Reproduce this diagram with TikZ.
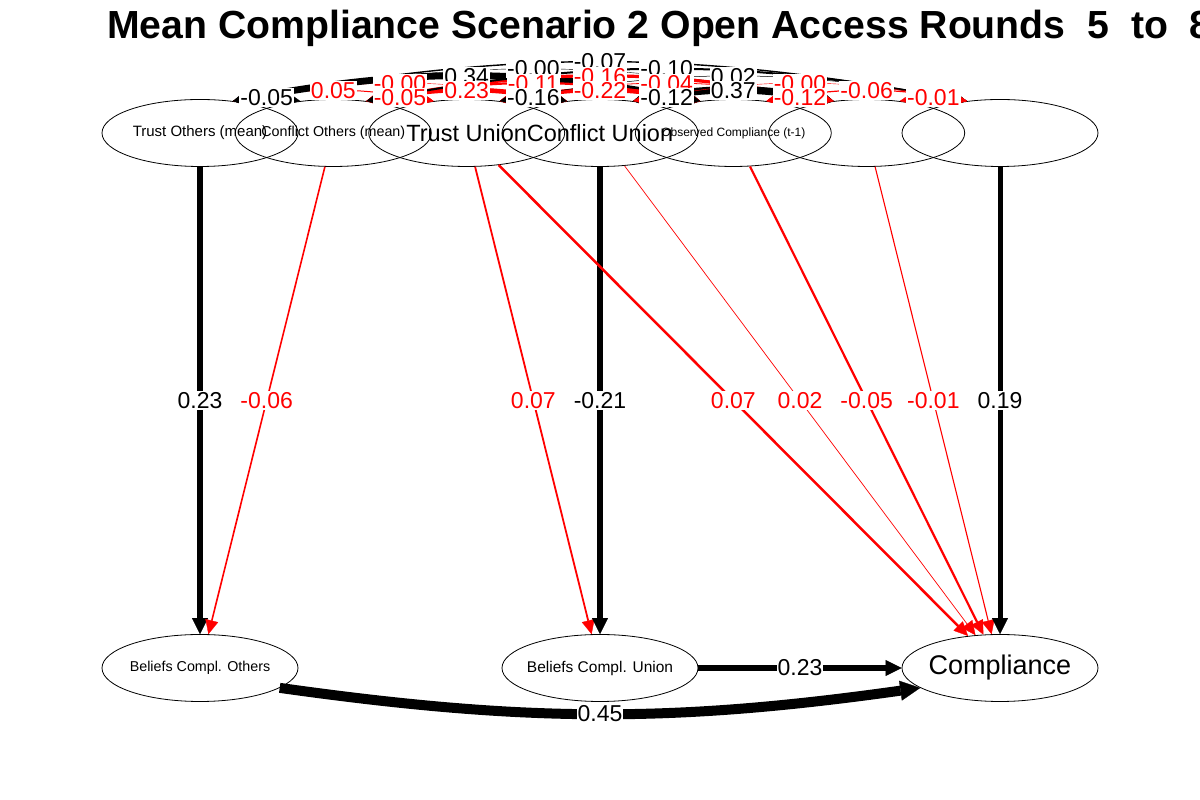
\documentclass[tikz,border=0pt]{standalone}
\usepackage{fontspec}
\setmainfont{Liberation Sans}
\usetikzlibrary{arrows.meta,shapes.geometric}
\newcommand\myfs[1]{\fontsize{#1}{#1}\selectfont}
\begin{document}
\begin{tikzpicture}[x=1pt,y=1pt,
 nd/.style={draw, ellipse, minimum width=196pt, minimum height=67pt, inner sep=0pt, line width=0.8pt},
 lab/.style={fill=white, inner sep=1pt, font=\myfs{23}},
 cov/.style={{Triangle[length=6pt 1.1,width=5pt 1.6,line width=0.3pt]}-{Triangle[length=6pt 1.1,width=5pt 1.6,line width=0.3pt]}},
 dirA/.style={-{Triangle[length=16pt,width=16pt,line width=0.3pt]}},
 dirB/.style={-{Triangle[length=14pt,width=13pt,line width=0.3pt]}},
 bl/.style={bend left=10.5}
]
\useasboundingbox (0,0) rectangle (1200,800);
\fill[white] (0,0) rectangle (1200,800);
\node[anchor=base west, font=\bfseries\myfs{39.2}, inner sep=0pt] (title) at (107,761) {Mean Compliance Scenario 2 Open Access Rounds\ \ 5\ \ to\ \ 8};

% nodes
\node[nd] (n1) at (200,667) {\makebox[0pt]{\myfs{15}Trust Others (mean)}};
\node[nd] (n2) at (333.3,667) {\makebox[0pt]{\myfs{14.3}Conflict Others (mean)}};
\node[nd] (n3) at (466.7,667) {\makebox[0pt]{\myfs{23.5}Trust Union}};
\node[nd] (n4) at (600,667) {\makebox[0pt]{\myfs{23.5}Conflict Union}};
\node[nd] (n5) at (733.3,667) {\makebox[0pt]{\myfs{12}Observed Compliance (t-1)}};
\node[nd] (n6) at (866.7,667) {};
\node[nd] (n7) at (1000,667) {};
\node[nd] (b1) at (200,132) {\makebox[0pt]{\myfs{14.3}Beliefs Compl. Others}};
\node[nd] (b2) at (600,132) {\makebox[0pt]{\myfs{15.5}Beliefs Compl. Union}};
\node[nd] (c) at (1000,132) {\makebox[0pt]{\myfs{27}Compliance}};

% covariance arcs
\draw[cov, black, line width=1.0pt] (n1.44) to[bl] coordinate[midway] (m12) (n2.136);
\draw[cov, red, line width=1.0pt] (n1.44) to[bl] coordinate[midway] (m13) (n3.136);
\draw[cov, red, line width=0.4pt] (n1.44) to[bl] coordinate[midway] (m14) (n4.136);
\draw[cov, black, line width=6.8pt] (n1.44) to[bl] coordinate[midway] (m15) (n5.136);
\draw[cov, black, line width=0.4pt] (n1.44) to[bl] coordinate[midway] (m16) (n6.136);
\draw[cov, black, line width=1.4pt] (n1.44) to[bl] coordinate[midway] (m17) (n7.136);
\draw[cov, red, line width=1.0pt] (n2.44) to[bl] coordinate[midway] (m23) (n3.136);
\draw[cov, red, line width=4.6pt] (n2.44) to[bl] coordinate[midway] (m24) (n4.136);
\draw[cov, red, line width=2.2pt] (n2.44) to[bl] coordinate[midway] (m25) (n5.136);
\draw[cov, red, line width=3.2pt] (n2.44) to[bl] coordinate[midway] (m26) (n6.136);
\draw[cov, black, line width=2.0pt] (n2.44) to[bl] coordinate[midway] (m27) (n7.136);
\draw[cov, black, line width=3.2pt] (n3.44) to[bl] coordinate[midway] (m34) (n4.136);
\draw[cov, red, line width=4.4pt] (n3.44) to[bl] coordinate[midway] (m35) (n5.136);
\draw[cov, red, line width=0.8pt] (n3.44) to[bl] coordinate[midway] (m36) (n6.136);
\draw[cov, black, line width=0.5pt] (n3.44) to[bl] coordinate[midway] (m37) (n7.136);
\draw[cov, black, line width=2.4pt] (n4.44) to[bl] coordinate[midway] (m45) (n5.136);
\draw[cov, black, line width=7.4pt] (n4.44) to[bl] coordinate[midway] (m46) (n6.136);
\draw[cov, red, line width=0.4pt] (n4.44) to[bl] coordinate[midway] (m47) (n7.136);
\draw[cov, red, line width=2.4pt] (n5.44) to[bl] coordinate[midway] (m56) (n6.136);
\draw[cov, red, line width=1.2pt] (n5.44) to[bl] coordinate[midway] (m57) (n7.136);
\draw[cov, red, line width=0.4pt] (n6.44) to[bl] coordinate[midway] (m67) (n7.136);

% directed edges
\draw[dirA, line width=6pt] (n1) -- coordinate[midway] (e1) (b1);
\draw[dirB, red, line width=1.6pt] (n2) -- coordinate[midway] (e2) (b1);
\draw[dirB, red, line width=1.8pt] (n3) -- coordinate[midway] (e3) (b2);
\draw[dirA, line width=6pt] (n4) -- coordinate[midway] (e4) (b2);
\draw[dirB, red, line width=2.5pt] (n3) -- coordinate[midway] (e5) (c);
\draw[dirB, red, line width=0.7pt] (n4) -- coordinate[midway] (e6) (c);
\draw[dirB, red, line width=2.2pt] (n5) -- coordinate[midway] (e7) (c);
\draw[dirB, red, line width=1.1pt] (n6) -- coordinate[midway] (e8) (c);
\draw[dirA, line width=5pt] (n7) -- coordinate[midway] (e9) (c);
\draw[dirA, line width=6pt] (b2) -- coordinate[midway] (e10) (c);
\draw[line width=10pt, -{Triangle[length=20pt,width=20pt,line width=0.3pt]}] (b1.-14) to[bend right=8] coordinate[midway] (e11) (c.194);

% covariance labels
\node[lab, text=black] at (m17) {-0.07};
\node[lab, text=black] at (m16) {-0.00};
\node[lab, text=black] at (m27) {-0.10};
\node[lab, text=black] at (m15) {0.34};
\node[lab, text=black] at (m37) {0.02};
\node[lab, text=red] at (m14) {-0.00};
\node[lab, text=red] at (m25) {-0.11};
\node[lab, text=red] at (m26) {-0.16};
\node[lab, text=red] at (m36) {-0.04};
\node[lab, text=red] at (m47) {-0.00};
\node[lab, text=red] at (m13) {0.05};
\node[lab, text=red] at (m24) {0.23};
\node[lab, text=red] at (m35) {-0.22};
\node[lab, text=black] at (m46) {0.37};
\node[lab, text=red] at (m57) {-0.06};
\node[lab, text=black] at (m12) {-0.05};
\node[lab, text=red] at (m23) {-0.05};
\node[lab, text=black] at (m34) {-0.16};
\node[lab, text=black] at (m45) {-0.12};
\node[lab, text=red] at (m56) {-0.12};
\node[lab, text=red] at (m67) {-0.01};

% directed labels
\node[lab, text=black] at (e1) {0.23};
\node[lab, text=red] at (e2) {-0.06};
\node[lab, text=red] at (e3) {0.07};
\node[lab, text=black] at (e4) {-0.21};
\node[lab, text=red] at (e5) {0.07};
\node[lab, text=red] at (e6) {0.02};
\node[lab, text=red] at (e7) {-0.05};
\node[lab, text=red] at (e8) {-0.01};
\node[lab, text=black] at (e9) {0.19};
\node[lab, text=black] at (e10) {0.23};
\node[lab, text=black] at (e11) {0.45};
\end{tikzpicture}
\end{document}
